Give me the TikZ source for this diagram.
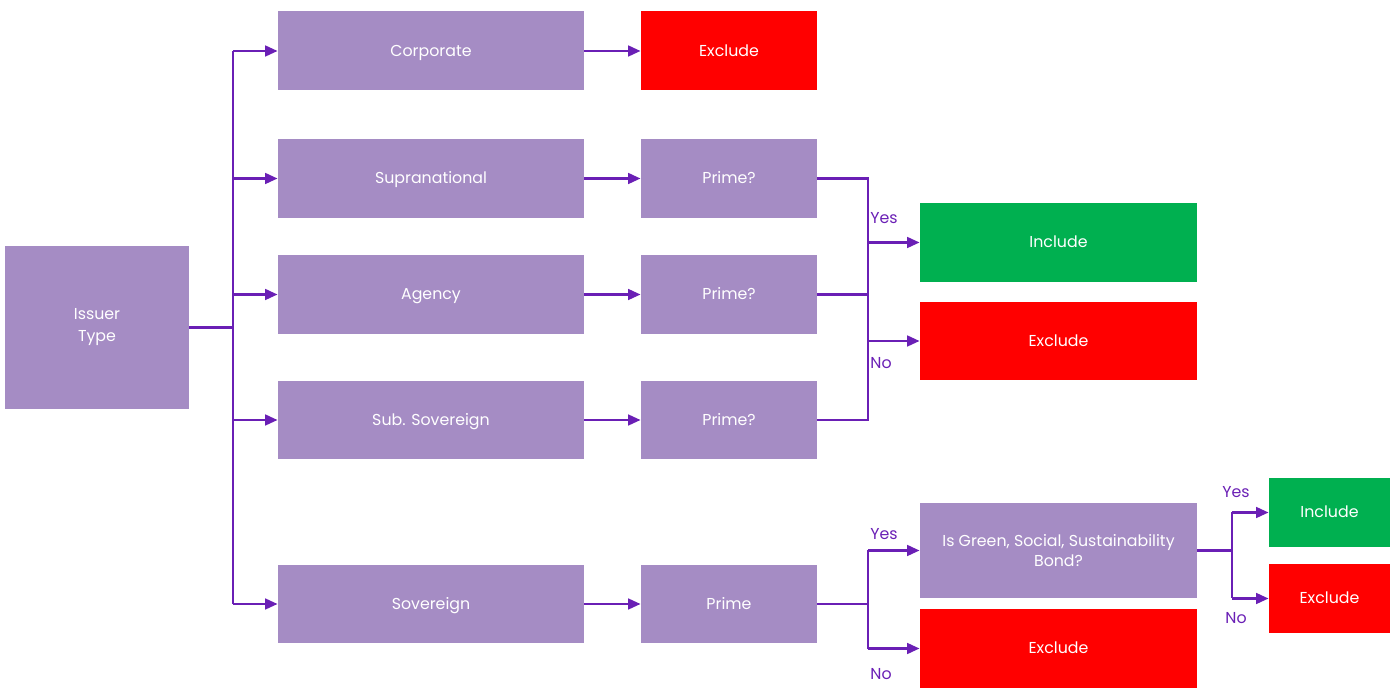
\documentclass[tikz,border=0pt]{standalone}
\usepackage{fontspec}
\setmainfont{Poppins}
\usetikzlibrary{arrows.meta}

\definecolor{boxviolet}{HTML}{A58CC4}
\definecolor{lineviolet}{HTML}{6A1FB5}
\definecolor{incgreen}{HTML}{00B050}
\definecolor{excred}{HTML}{FF0000}

\tikzset{
  box/.style={rectangle, minimum height=1.58cm, inner sep=0pt, text=white,
    font=\fontsize{9}{11}\selectfont, align=center, text height=1.5ex, text depth=0.4ex},
  twoline/.style={text height=, text depth=},
  pbox/.style={box, fill=boxviolet},
  gbox/.style={box, fill=incgreen},
  rbox/.style={box, fill=excred},
  conn/.style={draw=lineviolet, line width=1.6pt},
  arr/.style={conn, -{Triangle[length=0.25cm, width=0.21cm]}},
  lbl/.style={text=lineviolet, font=\fontsize{9}{11}\selectfont}
}

\begin{document}
\begin{tikzpicture}[x=0.02cm, y=-0.02cm]
    \useasboundingbox (0,0) rectangle (1399,688);

    % Issuer
    \node[pbox, twoline, minimum width=3.68cm, minimum height=3.26cm, font=\fontsize{9}{12.5}\selectfont] (issuer) at (97,327.5) {Issuer\\Type};

    % Issuer types
    \node[pbox, minimum width=6.12cm] (corp) at (431,51) {Corporate};
    \node[pbox, minimum width=6.12cm] (supra) at (431,178.5) {Supranational};
    \node[pbox, minimum width=6.12cm] (agency) at (431,294.5) {Agency};
    \node[pbox, minimum width=6.12cm] (subsov) at (431,420) {Sub. Sovereign};
    \node[pbox, minimum width=6.12cm] (sov) at (431,604) {Sovereign};

    % Second column
    \node[rbox, minimum width=3.52cm] (excorp) at (729,51) {Exclude};
    \node[pbox, minimum width=3.52cm] (prime1) at (729,178.5) {Prime?};
    \node[pbox, minimum width=3.52cm] (prime2) at (729,294.5) {Prime?};
    \node[pbox, minimum width=3.52cm] (prime3) at (729,420) {Prime?};
    \node[pbox, minimum width=3.52cm] (prime4) at (729,604) {Prime};

    % Third column
    \node[gbox, minimum width=5.54cm] (inc1) at (1058.5,242.5) {Include};
    \node[rbox, minimum width=5.54cm] (exc1) at (1058.5,341) {Exclude};
    \node[pbox, twoline, minimum width=5.54cm, minimum height=1.9cm] (green) at (1058.5,550.5) {Is Green, Social, Sustainability\\Bond?};
    \node[rbox, minimum width=5.54cm] (exc2) at (1058.5,648.5) {Exclude};

    % Fourth column
    \node[gbox, minimum width=2.42cm, minimum height=1.38cm] (inc3) at (1329.5,512.5) {Include};
    \node[rbox, minimum width=2.42cm, minimum height=1.38cm] (exc3) at (1329.5,598.5) {Exclude};

    % Bus lines
    \coordinate (bus1) at (233,0);
    \coordinate (bus2) at (868,0);
    \coordinate (bus3) at (1232,0);

    % Issuer to types
    \draw[conn] (issuer.east) -- (bus1 |- issuer.east);
    \draw[conn] (bus1 |- corp.west) -- (bus1 |- sov.west);
    \foreach \n in {corp, supra, agency, subsov, sov}
        \draw[arr] (bus1 |- \n.west) -- (\n.west);

    % Types to second column
    \draw[arr] (corp.east) -- (excorp.west);
    \draw[arr] (supra.east) -- (prime1.west);
    \draw[arr] (agency.east) -- (prime2.west);
    \draw[arr] (subsov.east) -- (prime3.west);
    \draw[arr] (sov.east) -- (prime4.west);

    % Prime? to include / exclude
    \draw[conn] (prime1.east) -| (bus2 |- prime3.east) -- (prime3.east);
    \draw[conn] (prime2.east) -- (bus2 |- prime2.east);
    \draw[arr] (bus2 |- inc1.west) -- (inc1.west);
    \draw[arr] (bus2 |- exc1.west) -- (exc1.west);
    \node[lbl] (yes1) at (884,218) {Yes};
    \node[lbl] (no1) at (881,363) {No};

    % Prime to green bond / exclude
    \draw[conn] (prime4.east) -- (bus2 |- prime4.east);
    \draw[conn] (bus2 |- green.west) -- (bus2 |- exc2.west);
    \draw[arr] (bus2 |- green.west) -- (green.west);
    \draw[arr] (bus2 |- exc2.west) -- (exc2.west);
    \node[lbl] (yes2) at (884,534) {Yes};
    \node[lbl] (no2) at (881,674) {No};

    % Green bond to include / exclude
    \draw[conn] (green.east) -- (bus3 |- green.east);
    \draw[conn] (bus3 |- inc3.west) -- (bus3 |- exc3.west);
    \draw[arr] (bus3 |- inc3.west) -- (inc3.west);
    \draw[arr] (bus3 |- exc3.west) -- (exc3.west);
    \node[lbl] (yes3) at (1236,492) {Yes};
    \node[lbl] (no3) at (1236,618) {No};
\end{tikzpicture}
\end{document}
